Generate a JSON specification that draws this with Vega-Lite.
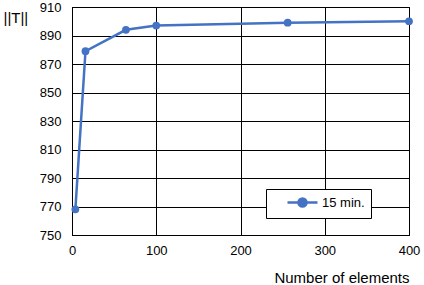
{
  "$schema": "https://vega.github.io/schema/vega-lite/v6.json",
  "autosize": "none",
  "width": 337,
  "height": 228,
  "padding": {"left": 72, "top": 7, "right": 15, "bottom": 50},
  "background": "white",
  "config": {
    "font": "Liberation Sans",
    "view": {"stroke": "black", "strokeWidth": 1}
  },
  "data": {
    "values": [
      {"n": 4, "T": 768, "series": "15 min."},
      {"n": 16, "T": 879, "series": "15 min."},
      {"n": 64, "T": 894, "series": "15 min."},
      {"n": 100, "T": 897, "series": "15 min."},
      {"n": 256, "T": 899, "series": "15 min."},
      {"n": 400, "T": 900, "series": "15 min."}
    ]
  },
  "encoding": {
    "x": {
      "field": "n", "type": "quantitative",
      "scale": {"domain": [0, 400], "nice": false, "zero": false},
      "axis": {
        "values": [0, 100, 200, 300, 400],
        "title": "Number of elements",
        "titleFont": "Liberation Sans", "titleFontSize": 15, "titleFontWeight": "normal", "titleColor": "black",
        "titleAnchor": "end", "titleAlign": "right", "titleX": 337, "titleY": 42, "titleBaseline": "middle",
        "labelFont": "Liberation Sans", "labelFontSize": 13, "labelColor": "black", "labelPadding": 9,
        "labelFlush": false, "labelOverlap": false,
        "ticks": false, "domainColor": "black", "gridColor": "black", "gridOpacity": 1, "gridWidth": 1
      }
    },
    "y": {
      "field": "T", "type": "quantitative",
      "scale": {"domain": [750, 910], "nice": false, "zero": false},
      "axis": {
        "values": [750, 770, 790, 810, 830, 850, 870, 890, 910],
        "title": "||T||",
        "titleFont": "Liberation Sans", "titleFontSize": 15, "titleFontWeight": "normal", "titleColor": "black",
        "titleAngle": 0, "titleAlign": "left", "titleBaseline": "middle", "titleX": -69, "titleY": 10,
        "labelFont": "Liberation Sans", "labelFontSize": 13, "labelColor": "black", "labelPadding": 11,
        "labelFlush": false, "labelOverlap": false,
        "ticks": false, "domainColor": "black", "gridColor": "black", "gridOpacity": 1, "gridWidth": 1
      }
    },
    "color": {
      "field": "series", "type": "nominal",
      "scale": {"range": ["#4472C4"]},
      "legend": {
        "title": null,
        "orient": "none", "legendX": 194, "legendY": 182,
        "direction": "vertical",
        "fillColor": "white", "strokeColor": "black", "padding": 6,
        "symbolType": "M-2.5,0L2.5,0M0.67,0A0.67,0.67 0 1,1 -0.67,0A0.67,0.67 0 1,1 0.67,0",
        "symbolSize": 144, "symbolStrokeWidth": 2.5, "symbolFillColor": "#4472C4", "symbolStrokeColor": "#4472C4",
        "symbolOffset": 23,
        "labelFont": "Liberation Sans", "labelFontSize": 13, "labelColor": "black", "labelOffset": 12
      }
    }
  },
  "layer": [
    {"mark": {"type": "line", "strokeWidth": 2.5}},
    {"mark": {"type": "point", "filled": true, "size": 60, "opacity": 1}}
  ]
}
